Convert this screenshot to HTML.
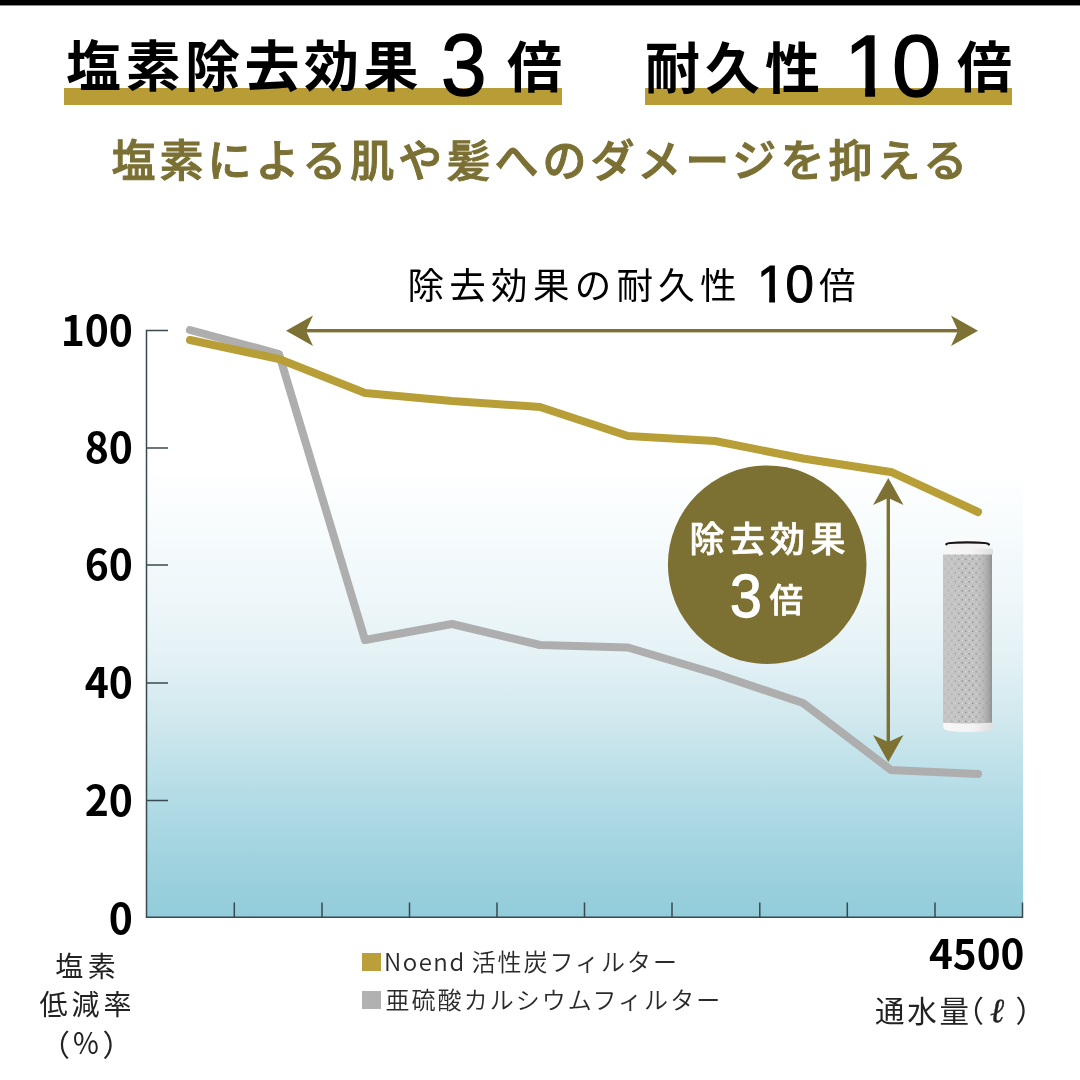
<!DOCTYPE html>
<html lang="ja">
<head>
<meta charset="utf-8">
<title>塩素除去効果 3倍 耐久性 10倍</title>
<style>
html,body{margin:0;padding:0;background:#fff;}
body{width:1080px;height:1080px;position:relative;overflow:hidden;
  font-family:"Liberation Sans","Noto Sans CJK JP",sans-serif;color:#000;}
.abs{position:absolute;white-space:nowrap;line-height:1;}
#topbar{left:0;top:0;width:1080px;height:6px;background:linear-gradient(to bottom,#000 0,#000 5px,#8c8c8c 5px,#8c8c8c 6px);}
#plot{left:147px;top:470px;width:875.5px;height:448px;
  background:linear-gradient(to bottom,#ffffff 0%,#f8fcfd 11%,#eef7fa 29%,#e3f1f5 42.5%,#d0e8ee 56%,#b3dce6 72.7%,#a0d3df 87%,#92ccda 100%);}
.ul{height:16.5px;background:#b89c36;}
.h1{font-weight:700;font-size:55px;letter-spacing:4.5px;font-family:"Liberation Sans","Noto Sans CJK JP",sans-serif;}
.num{font-family:"Liberation Sans",sans-serif;font-weight:400;-webkit-text-stroke:1.4px currentColor;}
#sub{left:111.5px;top:140px;font-size:44px;letter-spacing:4.03px;font-weight:500;-webkit-text-stroke:1px #7b7034;color:#7b7034;font-family:"Liberation Sans","Noto Sans CJK JP",sans-serif;}
.one{display:inline-block;clip-path:polygon(0 0,100% 0,100% 0.745em,0.353em 0.745em,0.353em 100%,0.24em 100%,0.24em 0.745em,0 0.745em);}
.ylab{font-family:"Noto Sans CJK JP","Liberation Sans",sans-serif;font-weight:700;font-size:41.5px;text-align:right;width:120px;transform-origin:100% 50%;transform:scaleX(0.985);}
svg{position:absolute;left:0;top:0;}
.leg{font-size:24px;color:#2a2a2a;font-weight:350;letter-spacing:1.5px;font-family:"Noto Sans CJK JP","Liberation Sans",sans-serif;}
.cap{font-size:28px;color:#222;font-weight:400;text-align:center;font-family:"Liberation Sans","Noto Sans CJK JP",sans-serif;}
</style>
</head>
<body>
<div class="abs" id="topbar"></div>
<div class="abs" id="plot"></div>

<div class="abs ul" style="left:64px;top:88px;width:498px;"></div>
<div class="abs ul" style="left:645px;top:88px;width:367px;"></div>
<div class="abs h1" style="left:66px;top:40px;">塩素除去効果</div>
<div class="abs num" style="left:441px;top:21px;font-size:88px;transform:scaleX(0.93);transform-origin:0 0;">3</div>
<div class="abs h1" style="left:507px;top:41px;">倍</div>
<div class="abs h1" style="left:645px;top:42px;letter-spacing:5px;">耐久性</div>
<div class="abs num" style="left:844px;top:22px;font-size:88px;"><span class="one">1</span><span style="margin-left:-1px">0</span></div>
<div class="abs h1" style="left:957px;top:41px;">倍</div>

<div class="abs" id="sub">塩素による肌や髪へのダメージを抑える</div>

<div class="abs" style="left:407.5px;top:268.5px;font-size:36.5px;letter-spacing:5.3px;font-weight:400;font-family:'Liberation Sans','Noto Sans CJK JP',sans-serif;">除去効果の耐久性</div>
<div class="abs num" style="left:757px;top:259px;font-size:51px;-webkit-text-stroke:1px #000;"><span class="one">1</span><span style="margin-left:0px">0</span></div>
<div class="abs" style="left:819px;top:268.5px;font-size:36.5px;font-weight:400;font-family:'Liberation Sans','Noto Sans CJK JP',sans-serif;">倍</div>

<svg width="1080" height="1080" viewBox="0 0 1080 1080">
  <!-- axes -->
  <g stroke="#3a494f" stroke-width="1.5" fill="none">
    <path d="M168 330.5H146.5V917.3H1022.5V902.5"/>
    <path d="M147 448H168M147 565H168M147 683H168M147 800.5H168"/>
    <path d="M234.3 917V902.5M322 917V902.5M409.5 917V902.5M497 917V902.5M584.5 917V902.5M672 917V902.5M759.8 917V902.5M847.3 917V902.5M935 917V902.5"/>
  </g>
  <!-- gray line -->
  <polyline points="190,330 279,354 365,640 452,624 540,645 628,647.5 715,673.5 803,703 891,770 978,774" fill="none" stroke="#aeaeae" stroke-width="8" stroke-linecap="round" stroke-linejoin="round"/>
  <!-- gold line -->
  <polyline points="190,340 279,359 365,393 452,401 540,407 628,436 715,441 803,458.5 892,472.3 978,512" fill="none" stroke="#b89e36" stroke-width="8" stroke-linecap="round" stroke-linejoin="round"/>
  <!-- horizontal arrow -->
  <g fill="#7d7134" stroke="none">
    <rect x="300" y="329" width="660" height="3.4"/>
    <path d="M286 330.7L313 315.5L306 330.7L313 346Z"/>
    <path d="M978 330.7L951 315.5L958 330.7L951 346Z"/>
    <rect x="886.6" y="495" width="3.4" height="250"/>
    <path d="M888.3 478L903.5 505L888.3 498L873 505Z"/>
    <path d="M888.3 762L903.5 735L888.3 742L873 735Z"/>
  </g>
  <circle cx="767.2" cy="564.7" r="99.3" fill="#7d7033"/>
</svg>

<div class="abs" style="left:689.5px;top:522px;font-size:35px;letter-spacing:5.3px;font-weight:500;-webkit-text-stroke:0.7px #fff;color:#fff;font-family:'Liberation Sans','Noto Sans CJK JP',sans-serif;">除去効果</div>
<div class="abs num" style="left:729.5px;top:565px;font-size:61.5px;color:#fff;-webkit-text-stroke:1.3px #fff;transform:scaleX(0.93);transform-origin:0 0;">3</div>
<div class="abs" style="left:769.5px;top:584px;font-size:33.5px;font-weight:500;-webkit-text-stroke:0.7px #fff;color:#fff;font-family:'Liberation Sans','Noto Sans CJK JP',sans-serif;">倍</div>

<div class="abs ylab" style="left:13px;top:308px;">100</div>
<div class="abs ylab" style="left:13px;top:425px;">80</div>
<div class="abs ylab" style="left:13px;top:542px;">60</div>
<div class="abs ylab" style="left:13px;top:660px;">40</div>
<div class="abs ylab" style="left:13px;top:778px;">20</div>
<div class="abs ylab" style="left:13px;top:895.5px;">0</div>

<!-- filter cartridge -->
<svg width="1080" height="1080" viewBox="0 0 1080 1080">
  <defs>
    <pattern id="mesh" x="943" y="557" width="7" height="9" patternUnits="userSpaceOnUse">
      <rect width="7" height="9" fill="#c3c3c3"/>
      <circle cx="1.75" cy="2.25" r="0.85" fill="#909090"/>
      <circle cx="5.25" cy="6.75" r="0.85" fill="#909090"/>
      <circle cx="5.25" cy="2.25" r="0.8" fill="#dadada"/>
      <circle cx="1.75" cy="6.75" r="0.8" fill="#dadada"/>
    </pattern>
    <linearGradient id="shade" x1="0" x2="1" y1="0" y2="0">
      <stop offset="0" stop-color="#c6c6c6" stop-opacity="0.85"/>
      <stop offset="0.22" stop-color="#c6c6c6" stop-opacity="0.45"/>
      <stop offset="0.38" stop-color="#c6c6c6" stop-opacity="0"/>
      <stop offset="0.62" stop-color="#c0c0c0" stop-opacity="0"/>
      <stop offset="0.8" stop-color="#b4b4b4" stop-opacity="0.55"/>
      <stop offset="0.93" stop-color="#a2a2a2" stop-opacity="0.9"/>
      <stop offset="1" stop-color="#909090" stop-opacity="1"/>
    </linearGradient>
    <linearGradient id="capg" x1="0" x2="1" y1="0" y2="0">
      <stop offset="0" stop-color="#f8f8f8"/>
      <stop offset="0.6" stop-color="#f3f3f3"/>
      <stop offset="1" stop-color="#dedede"/>
    </linearGradient>
  </defs>
  <path d="M943.3 721H993V727.5Q993 732 968 732Q943.3 732 943.3 727.5Z" fill="url(#capg)"/>
  <path d="M943 554H992V722.5Q967.5 724.5 943 722.5Z" fill="url(#mesh)"/>
  <path d="M943 554H992V722.5Q967.5 724.5 943 722.5Z" fill="url(#shade)"/>
  <ellipse cx="966.5" cy="540.8" rx="21.8" ry="3.6" fill="#fafafa"/>
  <rect x="945.6" y="543" width="43.4" height="6" fill="#f4f4f4"/>
  <path d="M946.4 544.2Q947 542.4 967.5 542.4Q988 542.4 988.8 544.4" fill="none" stroke="#151515" stroke-width="2.4" stroke-linecap="round"/>
  <path d="M942.2 549.5Q942.2 548.4 944 548.4H991.2Q993 548.4 993 549.5V554.6H942.2Z" fill="url(#capg)"/>
</svg>

<!-- legend -->
<div class="abs" style="left:361.5px;top:953px;width:19px;height:18px;background:#bb9f3a;"></div>
<div class="abs leg" style="left:384px;top:949px;">Noend<span style="letter-spacing:1.97px;margin-left:6px">活性炭フィルター</span></div>
<div class="abs" style="left:361.5px;top:990.5px;width:19px;height:18.5px;background:#b1b1b1;"></div>
<div class="abs leg" style="left:385.5px;top:987px;letter-spacing:2.05px">亜硫酸カルシウムフィルター</div>

<!-- axis captions -->
<div class="abs cap" style="left:0;width:171px;top:953.7px;letter-spacing:4.3px;text-indent:4.3px;">塩素</div>
<div class="abs cap" style="left:0;width:171px;top:991.7px;letter-spacing:4.1px;text-indent:4.1px;">低減率</div>
<div class="abs cap" style="left:40px;top:1030.5px;text-align:left;font-size:30px;">（<span style="position:absolute;left:32.5px;top:-3.5px;font-size:29.5px;font-family:'Noto Sans CJK JP','Liberation Sans',sans-serif;transform:scaleX(0.95);transform-origin:0 0;">%</span><span style="position:absolute;left:62.5px;top:0;">）</span></div>
<div class="abs" style="left:881.5px;width:143px;text-align:right;top:932px;font-family:'Noto Sans CJK JP','Liberation Sans',sans-serif;font-size:40.5px;font-weight:700;transform-origin:100% 50%;transform:scaleX(1);">4500</div>
<div class="abs cap" style="left:875px;top:996.5px;text-align:left;letter-spacing:2.8px;font-size:29.5px;">通水量<span style="position:absolute;left:79px;top:0px;letter-spacing:0;font-size:30px;">（</span><i style="position:absolute;left:115px;top:-2.5px;letter-spacing:0;font-family:'Liberation Serif','DejaVu Serif',serif;font-size:34px;-webkit-text-stroke:0.4px #222;">ℓ</i><span style="position:absolute;left:140.5px;top:0px;letter-spacing:0;font-size:30px;">）</span></div>

</body>
</html>
